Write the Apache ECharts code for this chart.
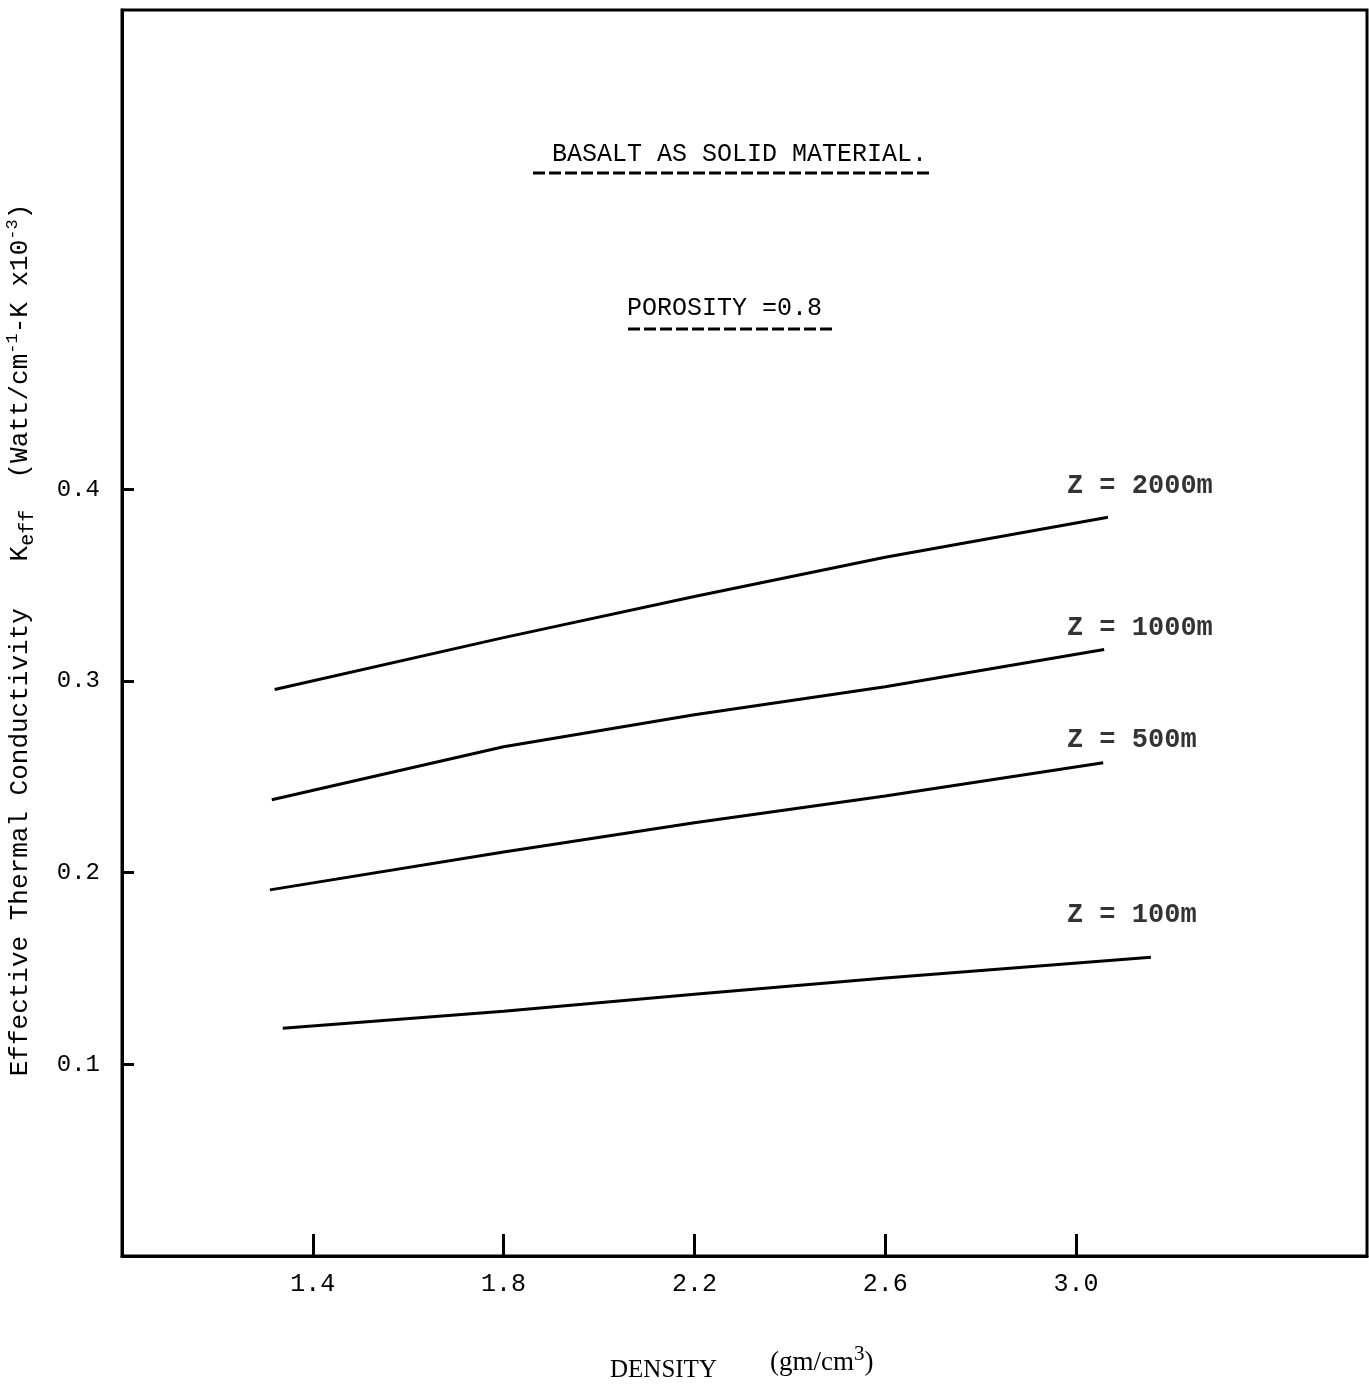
<!DOCTYPE html>
<html><head><meta charset="utf-8">
<script src="https://cdn.jsdelivr.net/npm/echarts@6/dist/echarts.min.js"></script>
<style>html,body{margin:0;padding:0;background:#fff}#c{width:1369px;height:1389px}</style>
</head><body><div id="c"></div>
<script>
const xTicks = [1.4, 1.8, 2.2, 2.6, 3.0];
const yTicks = [0.1, 0.2, 0.3, 0.4];
const seriesNames = ['Z = 2000m', 'Z = 1000m', 'Z = 500m', 'Z = 100m'];
const x2000 = [1.32, 1.8, 2.2, 2.6, 3.067];
const y2000 = [0.2955, 0.3226, 0.344, 0.3645, 0.3854];
const x1000 = [1.314, 1.8, 2.2, 2.6, 3.059];
const y1000 = [0.238, 0.2657, 0.2824, 0.297, 0.3164];
const x500 = [1.31, 1.8, 2.2, 2.6, 3.057];
const y500 = [0.191, 0.2108, 0.226, 0.24, 0.2573];
const x100 = [1.337, 1.8, 2.2, 2.6, 3.157];
const y100 = [0.1188, 0.1277, 0.1365, 0.145, 0.1559];
const labelX = [2.981, 2.981, 2.981, 2.981];
const labelY = [0.4016, 0.3273, 0.2693, 0.1778];

const FONT = '"Liberation Mono", "DejaVu Sans Mono", monospace';
const SERIF = '"Liberation Serif", serif';
const zip = (a, b) => a.map((v, i) => [v, b[i]]);
const lines = [zip(x2000, y2000), zip(x1000, y1000), zip(x500, y500), zip(x100, y100)];

const chart = echarts.init(document.getElementById('c'), null, {renderer: 'canvas'});
const series = lines.map((d, i) => ({
  name: seriesNames[i], type: 'line', data: d, smooth: false, symbol: 'none',
  lineStyle: {color: '#000', width: 3}
}));
series.push({
  type: 'scatter', symbolSize: 0, silent: true,
  data: labelX.map((x, i) => ({value: [x, labelY[i]], name: seriesNames[i]})),
  label: {show: true, position: 'right', distance: 0, formatter: p => p.name,
    fontFamily: FONT, fontSize: 27, fontWeight: 'bold', color: '#000'}
});

chart.setOption({
  animation: false,
  backgroundColor: '#fff',
  grid: {left: 122, top: 10, right: 2, bottom: 133, show: true, borderColor: '#000', borderWidth: 3},
  xAxis: {
    type: 'value', min: 1.0, max: 3.61,
    axisLine: {show: true, onZero: false, lineStyle: {color: '#000', width: 3}},
    axisTick: {show: true, inside: true, length: 22, customValues: xTicks, lineStyle: {color: '#000', width: 3}},
    axisLabel: {customValues: xTicks, formatter: v => v.toFixed(1), margin: 16,
      fontFamily: FONT, fontSize: 25, color: '#000'},
    splitLine: {show: false}
  },
  yAxis: {
    type: 'value', min: 0, max: 0.65,
    axisLine: {show: true, onZero: false, lineStyle: {color: '#000', width: 3}},
    axisTick: {show: true, inside: true, length: 12, customValues: yTicks, lineStyle: {color: '#000', width: 3}},
    axisLabel: {customValues: yTicks, formatter: v => v.toFixed(1), margin: 22,
      fontFamily: FONT, fontSize: 24, color: '#000'},
    splitLine: {show: false}
  },
  graphic: [
    {type: 'text', left: 552, top: 142, style: {text: 'BASALT AS SOLID MATERIAL.', font: '25px ' + FONT, fill: '#000'}},
    {type: 'line', shape: {x1: 533, y1: 173, x2: 933, y2: 173}, style: {stroke: '#000', lineWidth: 3, lineDash: [12, 4]}},
    {type: 'text', left: 627, top: 296, style: {text: 'POROSITY =0.8', font: '25px ' + FONT, fill: '#000'}},
    {type: 'line', shape: {x1: 628, y1: 329, x2: 833, y2: 329}, style: {stroke: '#000', lineWidth: 3, lineDash: [12, 4]}},
    {type: 'text', x: 20, y: 640, rotation: Math.PI / 2, originX: 0, originY: 0,
      style: {
        text: 'Effective Thermal Conductivity   K{sub|eff}  (Watt/cm{sup|-1}-K x10{sup|-3})',
        font: '26px ' + FONT, fill: '#000', align: 'center', verticalAlign: 'middle',
        rich: {sub: {fontSize: 20, fontFamily: FONT, padding: [16, 0, 0, 0], fill: '#000'},
               sup: {fontSize: 17, fontFamily: FONT, padding: [0, 0, 16, 0], fill: '#000'}}
      }},
    {type: 'text', left: 610, top: 1358, style: {text: 'DENSITY', font: '25px ' + SERIF, fill: '#000'}},
    {type: 'text', left: 770, top: 1344, style: {text: '(gm/cm{sup|3})', font: '27px ' + SERIF, fill: '#000',
      rich: {sup: {fontSize: 21, fontFamily: SERIF, padding: [0, 0, 16, 0], fill: '#000'}}}}
  ],
  series: series
});
</script></body></html>
